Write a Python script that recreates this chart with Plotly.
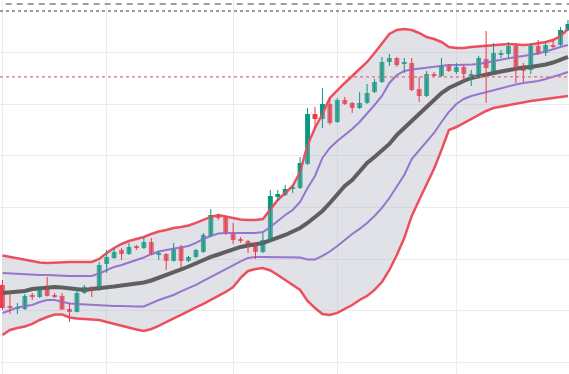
import plotly.graph_objects as go

bars = list(range(77))

open_ = [115.00, 110.93, 110.45, 110.35, 112.87, 112.67, 114.22, 112.96, 112.87, 110.35,
         109.77, 113.45, 114.61, 114.03, 119.06, 120.22, 121.77, 120.99, 122.44, 122.15,
         123.31, 120.89, 120.99, 119.64, 122.15, 119.64, 120.41, 121.38, 124.47, 128.44,
         128.15, 125.05, 123.79, 123.50, 123.12, 121.38, 123.50, 132.02, 132.41, 133.56,
         133.76, 138.40, 148.07, 147.10, 150.01, 146.52, 150.78, 150.20, 149.23, 150.20,
         152.33, 154.26, 158.13, 158.90, 157.84, 157.93, 152.91, 151.55, 155.71, 155.42,
         157.55, 156.19, 157.16, 155.71, 155.61, 158.71, 156.19, 159.77, 159.68, 161.22,
         157.35, 156.58, 161.22, 159.87, 161.51, 161.42, 164.32]
high = [115.96, 113.45, 111.51, 113.25, 113.45, 114.41, 116.54, 113.45, 113.45, 111.51,
        114.61, 115.00, 114.70, 119.44, 121.77, 122.15, 122.15, 123.12, 122.73, 124.08,
        124.08, 121.57, 121.18, 123.12, 122.73, 120.60, 121.96, 125.05, 129.69, 128.73,
        128.34, 126.99, 124.28, 123.70, 123.31, 125.05, 133.37, 133.37, 134.34, 134.34,
        139.75, 149.23, 149.43, 153.10, 151.36, 151.17, 151.36, 150.39, 152.33, 153.87,
        154.84, 159.10, 159.68, 159.10, 158.90, 158.90, 155.23, 156.39, 156.19, 158.90,
        157.74, 157.93, 157.55, 156.58, 159.29, 164.12, 161.80, 160.45, 162.00, 161.80,
        157.93, 161.80, 162.38, 162.00, 162.58, 164.90, 166.25]
low = [110.16, 109.38, 109.38, 110.16, 112.09, 112.48, 112.77, 112.48, 110.16, 107.83,
       109.67, 113.25, 112.67, 113.83, 117.32, 120.02, 119.83, 120.80, 121.77, 121.96,
       120.70, 119.83, 117.90, 119.54, 118.28, 119.44, 120.22, 121.18, 124.28, 127.57,
       124.67, 122.92, 123.12, 121.18, 120.02, 121.18, 123.31, 131.24, 132.21, 132.79,
       133.56, 138.21, 145.36, 145.36, 145.94, 146.33, 149.81, 148.27, 149.04, 150.01,
       152.13, 154.07, 157.35, 157.16, 156.00, 152.52, 150.39, 151.36, 155.23, 155.23,
       156.19, 155.81, 154.26, 153.49, 155.23, 150.20, 156.10, 158.90, 158.90, 154.07,
       154.26, 155.81, 159.48, 159.29, 160.84, 161.22, 164.12]
close = [110.54, 110.74, 110.64, 112.87, 112.67, 114.22, 112.87, 112.77, 110.25, 109.77,
         113.45, 114.61, 113.83, 118.86, 120.41, 121.38, 120.99, 122.35, 122.25, 123.31,
         120.80, 121.09, 119.64, 122.15, 119.64, 120.41, 121.77, 124.67, 128.53, 128.24,
         125.05, 123.70, 123.60, 122.73, 121.38, 123.70, 132.21, 132.60, 133.56, 133.85,
         138.59, 148.07, 147.10, 150.01, 146.33, 150.78, 150.01, 149.23, 150.20, 152.13,
         154.26, 158.13, 158.90, 157.55, 158.03, 152.71, 151.55, 155.81, 155.52, 157.55,
         156.39, 157.16, 155.81, 155.90, 158.90, 156.97, 159.87, 159.97, 161.22, 156.97,
         156.39, 161.22, 159.87, 161.42, 161.32, 164.32, 165.48]

upper_band = [120.71, 120.41, 120.12, 119.83, 119.54, 119.35, 119.25, 119.35, 119.44, 119.44,
              119.44, 119.44, 119.44, 120.02, 121.18, 122.15, 122.92, 123.50, 123.89, 124.28,
              124.86, 125.34, 125.63, 126.02, 126.21, 126.50, 126.99, 127.57, 128.15, 128.53,
              128.24, 127.86, 127.66, 127.57, 127.57, 127.76, 129.69, 131.44, 132.79, 134.14,
              136.85, 142.08, 145.36, 148.07, 151.17, 152.71, 154.07, 155.42, 156.77, 158.13,
              159.87, 161.61, 163.54, 164.32, 164.51, 164.32, 163.74, 162.96, 162.58, 162.00,
              161.03, 160.84, 160.84, 161.03, 161.13, 161.22, 161.42, 161.51, 161.61, 161.51,
              161.42, 161.51, 161.71, 162.00, 162.38, 163.16, 164.51]
upper_inner = [117.32, 117.22, 117.12, 117.12, 117.03, 116.93, 116.93, 116.84, 116.84, 116.74,
               116.74, 116.74, 116.74, 117.22, 117.90, 118.48, 118.86, 119.35, 119.83, 120.31,
               120.99, 121.47, 121.77, 122.06, 122.25, 122.54, 123.12, 123.89, 124.47, 124.96,
               125.05, 125.05, 125.05, 125.05, 125.05, 125.24, 126.21, 127.37, 128.53, 129.50,
               131.05, 133.76, 136.08, 139.56, 141.50, 142.85, 144.01, 145.17, 146.52, 148.07,
               149.81, 151.55, 154.07, 155.61, 156.39, 156.68, 156.87, 157.06, 157.26, 157.45,
               157.55, 157.55, 157.55, 157.64, 157.74, 158.03, 158.32, 158.61, 158.90, 159.10,
               159.29, 159.48, 159.77, 160.16, 160.64, 161.03, 161.42]
middle = [113.45, 113.54, 113.64, 113.83, 114.22, 114.41, 114.61, 114.61, 114.51, 114.41,
          114.12, 114.03, 114.22, 114.32, 114.51, 114.70, 114.90, 115.09, 115.28, 115.48,
          115.86, 116.35, 116.93, 117.41, 117.99, 118.57, 119.25, 119.83, 120.41, 120.89,
          121.38, 121.86, 122.35, 122.64, 122.92, 123.12, 123.60, 124.08, 124.67, 125.34,
          126.02, 126.99, 128.15, 129.31, 130.85, 132.60, 134.14, 135.30, 136.85, 138.59,
          139.75, 140.91, 142.27, 144.01, 145.36, 146.91, 148.27, 149.43, 150.78, 152.13,
          153.10, 153.87, 154.45, 155.03, 155.42, 155.71, 156.00, 156.29, 156.58, 156.87,
          157.06, 157.16, 157.35, 157.64, 158.03, 158.52, 159.10]
lower_inner = [109.58, 110.16, 110.64, 110.93, 111.12, 111.70, 112.09, 112.09, 111.80, 111.41,
               111.32, 111.22, 111.12, 111.12, 111.03, 110.93, 110.93, 110.83, 110.83, 110.83,
               111.51, 112.09, 112.57, 113.06, 113.74, 114.32, 115.00, 115.77, 116.54, 117.32,
               118.09, 118.77, 119.54, 120.22, 120.41, 120.41, 120.41, 120.41, 120.41, 120.41,
               120.31, 119.93, 119.93, 120.60, 121.47, 122.54, 123.70, 124.86, 125.83, 126.99,
               128.34, 129.89, 131.82, 133.95, 136.27, 139.36, 141.11, 142.65, 144.40, 146.52,
               148.46, 150.01, 150.97, 151.55, 151.94, 152.33, 152.71, 153.10, 153.49, 153.78,
               154.07, 154.26, 154.45, 154.84, 155.23, 155.71, 156.19]
lower_band = [105.32, 106.29, 106.67, 106.96, 107.45, 108.22, 108.80, 109.29, 109.29, 108.71,
              108.51, 108.42, 108.42, 108.22, 107.83, 107.45, 107.06, 106.67, 106.38, 106.09,
              106.48, 107.06, 107.83, 108.51, 109.19, 109.96, 110.64, 111.32, 112.09, 112.87,
              113.64, 114.61, 116.35, 117.70, 118.09, 118.28, 117.80, 116.93, 115.96, 115.00,
              114.03, 111.90, 110.54, 109.38, 109.19, 109.58, 110.35, 111.12, 112.09, 112.87,
              114.03, 115.57, 117.90, 120.80, 124.08, 128.34, 131.44, 134.53, 137.49, 141.11,
              144.97, 145.55, 146.33, 147.10, 147.88, 148.65, 149.23, 149.52, 149.81, 150.10,
              150.39, 150.59, 150.78, 150.97, 151.17, 151.36, 151.55]

level_prices = [169.35, 168.0, 155.23]
grid_bars = [0, 14, 31, 45, 61]

RED_BAND = "#ec4f5e"
PURPLE = "#9575cd"
MID = "#5f5f5f"
UP = "#089981"
DOWN = "#f23645"

fig = go.Figure()
fig.add_trace(go.Scatter(x=bars, y=lower_band, mode="lines",
                         line=dict(color=RED_BAND, width=2.5), hoverinfo="skip"))
fig.add_trace(go.Scatter(x=bars, y=upper_band, mode="lines", fill="tonexty",
                         fillcolor="rgba(180,183,195,0.4)",
                         line=dict(color=RED_BAND, width=2.5), hoverinfo="skip"))
fig.add_trace(go.Scatter(x=bars, y=upper_inner, mode="lines",
                         line=dict(color=PURPLE, width=2), hoverinfo="skip"))
fig.add_trace(go.Scatter(x=bars, y=lower_inner, mode="lines",
                         line=dict(color=PURPLE, width=2), hoverinfo="skip"))
fig.add_trace(go.Scatter(x=bars, y=middle, mode="lines",
                         line=dict(color=MID, width=4), hoverinfo="skip"))

# candles: wicks + bodies built from the OHLC lists
MIN_BODY = 0.2
for rising, color in ((True, UP), (False, DOWN)):
    idx = [i for i in bars if (close[i] >= open_[i]) == rising]
    wx, wy = [], []
    for i in idx:
        wx += [bars[i], bars[i], None]
        wy += [low[i], high[i], None]
    fig.add_trace(go.Scatter(x=wx, y=wy, mode="lines",
                             line=dict(color=color, width=1), hoverinfo="skip"))
    base = [min(open_[i], close[i]) - (MIN_BODY / 2 if abs(close[i] - open_[i]) < MIN_BODY else 0)
            for i in idx]
    height = [max(abs(close[i] - open_[i]), MIN_BODY) for i in idx]
    fig.add_trace(go.Bar(x=[bars[i] for i in idx], y=height, base=base, width=0.66,
                         marker=dict(color=color, line=dict(width=0)), hoverinfo="skip"))

fig.add_shape(type="line", xref="paper", x0=0.01, x1=1, yref="y",
              y0=level_prices[0], y1=level_prices[0],
              line=dict(color="#9e9e9e", width=2, dash="6px,5px"))
fig.add_shape(type="line", xref="paper", x0=0, x1=1, yref="y",
              y0=level_prices[1], y1=level_prices[1],
              line=dict(color="#7a7a7a", width=1.5, dash="dot"))
fig.add_shape(type="line", xref="paper", x0=0, x1=1, yref="y",
              y0=level_prices[2], y1=level_prices[2],
              line=dict(color="#e0707c", width=1.2, dash="dot"))

fig.update_layout(
    width=569, height=374,
    margin=dict(l=0, r=0, t=0, b=0),
    paper_bgcolor="white", plot_bgcolor="white",
    showlegend=False, barmode="overlay",
    xaxis=dict(range=[-0.336, 76.14], tickvals=grid_bars, showticklabels=False,
               showgrid=True, gridcolor="#ececec", gridwidth=1, zeroline=False,
               fixedrange=True),
    yaxis=dict(range=[97.77, 170.12], tick0=100, dtick=10, showticklabels=False,
               showgrid=True, gridcolor="#ececec", gridwidth=1, zeroline=False,
               fixedrange=True),
)

fig.write_html("out.html", config={"displayModeBar": False},
               post_script="document.body.style.margin='0';document.body.style.overflow='hidden';")
